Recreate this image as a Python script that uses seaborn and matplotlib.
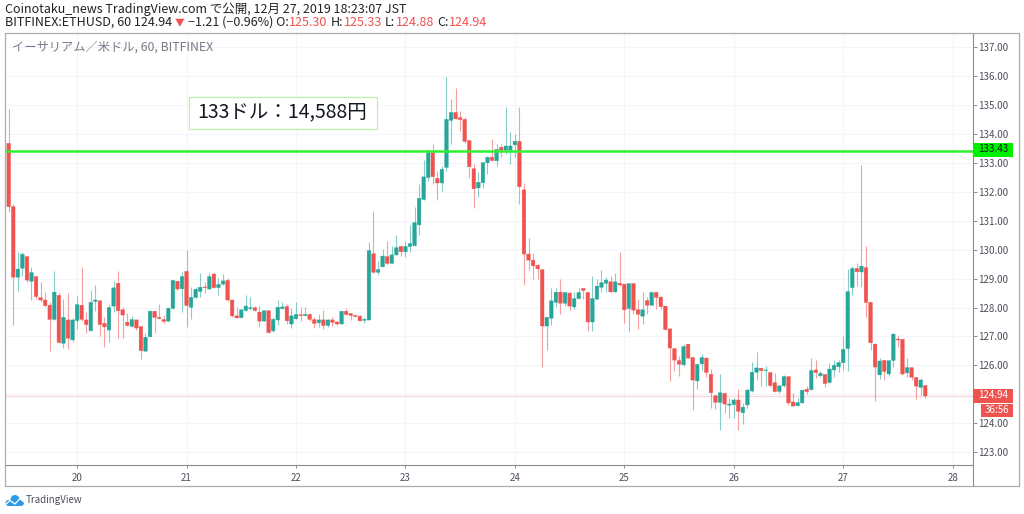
import numpy as np
import pandas as pd
import matplotlib
matplotlib.use("Agg")
import matplotlib.pyplot as plt
import seaborn as sns
from matplotlib.patches import Rectangle, Circle
from matplotlib.transforms import Affine2D

# ETHUSD hourly candles, first one is Dec 19 09:00
opens = [133.68,131.49,129.05,129.36,129.76,128.91,129.07,128.34,128.26,128.08,127.59,128.42,126.76,127.57,126.88,127.55,128.08,127.57,127.20,128.21,
         128.23,127.45,127.22,128.05,128.84,127.92,127.49,127.35,127.57,127.34,126.49,126.99,127.87,127.66,127.58,127.53,127.97,128.91,128.65,129.25,
         128.01,128.35,128.56,128.71,128.64,129.16,128.69,128.81,128.94,128.26,127.71,127.65,127.90,127.96,127.99,127.84,127.53,127.89,127.19,127.57,
         127.96,128.03,127.43,127.61,127.75,127.72,127.76,127.58,127.47,127.57,127.38,127.57,127.50,127.43,127.87,127.79,127.73,127.70,127.56,127.57,
         129.86,129.22,129.41,129.76,129.53,129.82,130.11,129.93,130.11,130.14,130.86,131.74,132.50,133.36,132.47,132.31,132.85,134.48,134.75,134.57,
         134.51,133.78,132.80,132.14,132.32,133.01,133.20,133.08,133.54,133.45,133.45,133.63,133.75,132.07,129.85,129.64,129.46,129.31,127.36,127.63,
         128.18,128.53,128.15,128.50,128.02,128.31,128.66,128.52,127.50,128.29,128.70,128.84,128.89,128.54,128.84,128.81,127.97,128.83,127.92,127.70,
         128.24,128.08,128.52,128.36,128.05,127.26,126.58,126.16,126.02,126.73,126.27,125.46,126.05,126.25,125.69,124.95,124.72,125.03,124.62,124.64,
         124.80,124.36,124.63,125.11,125.76,125.90,125.82,125.75,125.40,125.10,125.29,125.61,124.73,124.60,124.70,125.17,125.16,125.84,125.64,125.68,
         125.41,125.84,125.95,126.09,126.58,128.69,129.35,129.23,129.38,128.18,126.73,125.67,126.17,125.70,126.17,126.91,126.90,125.74,125.92,125.58,
         125.24,125.30]
highs = [134.86,131.58,129.91,129.93,129.78,129.41,129.07,128.87,128.55,128.20,129.25,128.55,128.28,128.49,127.63,128.41,129.41,127.83,128.61,128.78,
         128.26,127.68,128.12,128.93,129.25,128.01,127.80,127.71,127.59,127.34,127.13,127.92,127.89,128.12,127.74,128.01,128.96,128.91,129.23,129.99,
         128.70,128.72,129.21,128.90,129.21,129.21,129.01,129.16,129.01,128.26,128.01,127.92,128.43,128.36,128.05,128.05,127.89,127.89,127.66,128.26,
         128.20,128.12,127.97,128.19,128.01,128.03,127.82,127.68,127.76,127.91,127.59,127.66,127.54,127.87,127.98,127.80,127.74,127.74,127.66,130.27,
         131.34,129.62,130.01,130.31,130.13,130.50,130.16,130.31,130.86,131.47,132.27,133.10,133.50,133.66,132.73,132.90,135.99,135.21,135.58,134.80,
         134.60,133.78,132.95,132.69,133.03,133.24,133.82,133.66,133.66,134.93,134.07,134.00,134.93,132.30,130.42,129.88,129.55,129.31,127.68,128.68,
         128.66,129.00,128.52,128.52,128.54,128.66,128.68,128.53,129.10,128.98,129.31,129.04,129.10,129.18,129.91,128.83,128.83,128.83,128.29,128.54,
         128.37,128.52,128.52,128.39,128.05,127.26,126.58,126.32,126.75,126.73,126.27,126.03,126.39,126.28,125.86,124.95,125.69,125.03,124.86,124.86,
         125.17,124.69,125.20,126.12,126.45,125.90,125.98,125.76,125.72,125.30,125.65,125.61,125.03,124.88,125.16,125.30,126.27,126.18,125.79,125.69,
         126.07,126.18,126.18,127.02,129.35,129.43,129.54,132.92,130.12,128.18,126.78,126.27,126.17,126.18,127.12,127.04,126.90,126.27,125.92,125.60,
         125.55,125.33]
lows = [131.32,127.40,128.58,129.09,128.90,128.26,128.30,128.20,128.01,126.51,127.57,126.76,126.59,126.57,126.79,127.25,127.55,127.13,127.20,127.89,
        127.02,126.65,126.81,127.86,126.94,126.94,127.36,127.34,127.22,126.23,126.49,126.97,127.11,127.59,127.48,127.52,127.94,128.61,127.86,127.34,
        127.59,128.33,128.38,128.51,128.63,128.66,128.45,128.78,128.24,127.66,127.62,127.64,127.89,127.91,127.88,127.34,127.52,127.12,127.16,127.39,
        127.95,127.43,127.28,127.60,127.54,127.71,127.54,127.30,127.34,127.24,127.34,127.36,127.41,127.42,127.74,127.57,127.68,127.52,127.47,127.56,
        129.20,129.11,129.39,129.52,129.53,129.81,129.79,129.76,129.93,130.13,130.52,131.72,132.38,132.26,131.72,132.04,132.73,133.66,134.52,134.10,
        133.68,132.49,131.45,131.81,132.12,132.62,133.08,132.90,133.22,133.31,132.97,133.20,131.58,128.77,129.30,129.00,128.98,125.95,126.53,127.39,
        128.02,127.78,128.06,127.91,127.94,128.30,128.30,127.19,127.19,128.28,128.54,128.54,128.53,128.53,128.76,127.47,127.14,127.77,127.25,127.42,
        127.77,128.07,127.94,127.94,127.22,125.45,125.81,125.62,125.97,126.24,124.45,125.19,125.84,125.61,124.51,124.48,123.75,124.34,124.17,124.16,
        123.76,123.97,124.51,125.09,125.49,125.30,125.29,125.26,125.09,125.03,125.26,124.63,124.58,124.59,124.69,124.99,125.15,125.57,125.61,125.24,
        125.38,125.58,125.78,125.83,125.81,128.43,128.76,128.71,127.68,126.53,124.77,125.51,125.49,125.64,125.93,126.64,125.68,125.58,125.49,124.83,
        124.97,124.88]
closes = [131.49,129.05,129.33,129.84,128.95,129.21,128.38,128.26,128.07,127.59,128.53,126.79,127.66,126.94,127.57,128.10,127.59,127.41,128.18,128.26,
          127.41,127.33,128.00,128.68,127.89,127.74,127.38,127.58,127.29,126.51,126.97,127.87,127.66,127.62,127.52,127.97,128.94,128.64,129.07,128.07,
          128.35,128.63,128.70,128.69,129.07,128.69,128.80,128.92,128.26,127.71,127.64,127.92,128.05,127.99,127.90,127.53,127.89,127.13,127.59,128.01,
          128.02,127.54,127.71,127.76,127.72,127.76,127.59,127.45,127.57,127.38,127.57,127.49,127.43,127.87,127.76,127.73,127.69,127.54,127.59,129.97,
          129.22,129.31,129.78,129.53,129.82,130.07,129.93,130.11,130.21,130.94,131.78,132.52,133.36,132.53,132.31,132.78,134.51,134.75,134.53,134.50,
          133.75,132.87,132.11,132.33,133.01,133.20,133.09,133.47,133.45,133.59,133.59,133.75,132.18,129.85,129.64,129.44,129.34,127.36,127.66,128.23,
          128.53,128.15,128.52,128.05,128.31,128.52,128.59,127.50,128.31,128.74,128.86,128.95,128.54,128.89,128.78,127.92,128.83,127.91,127.77,127.92,
          128.08,128.52,128.35,128.03,127.24,126.60,126.18,126.04,126.65,126.25,125.49,126.03,126.27,125.75,125.05,124.72,125.05,124.66,124.66,124.80,
          124.41,124.55,125.14,125.76,125.91,125.82,125.84,125.30,125.09,125.29,125.61,124.70,124.59,124.71,125.14,125.09,125.82,125.75,125.72,125.37,
          125.87,126.00,126.09,126.55,128.55,129.35,129.24,129.43,128.18,126.78,125.94,126.15,125.79,126.16,127.08,126.88,125.70,125.92,125.59,125.28,
          125.49,124.94]

price_ticks = [123, 124, 125, 126, 127, 128, 129, 130, 131, 132, 133, 134, 135, 136, 137]
day_ticks = [20, 21, 22, 23, 24, 25, 26, 27, 28]
alert_price = 133.43
last_price = 124.94

up_col = "#26a69a"
down_col = "#ef5350"
line_green = "#2ef02e"
txt_col = "#4a4e5a"

sns.set_theme(style="white")
plt.rcParams["font.family"] = ["Noto Sans CJK JP", "DejaVu Sans"]

W, H = 1024, 514
fig = plt.figure(figsize=(W / 100, H / 100), dpi=100)
px = Affine2D().scale(1 / W, -1 / H).translate(0, 1) + fig.transFigure

# chart pane
ax = fig.add_axes([5 / W, 1 - 465 / H, 968 / W, 432 / H])

df = pd.DataFrame({"open": opens, "high": highs, "low": lows, "close": closes})
df["hour"] = np.arange(len(df)) + 9
df["top"] = df[["open", "close"]].max(axis=1)
df["bottom"] = df[["open", "close"]].min(axis=1)
df["body"] = df["top"] - df["bottom"]
df["rising"] = df["close"] >= df["open"]

for rising, col in [(True, up_col), (False, down_col)]:
    part = df[df["rising"] == rising]
    ax.vlines(part["hour"], part["low"], part["high"], color=col, lw=0.8, alpha=0.55, zorder=2)
    sns.barplot(data=part, x="hour", y="body", bottom=part["bottom"].values, native_scale=True,
                color=col, saturation=1, width=0.78, errorbar=None, ax=ax,
                linewidth=0.3, edgecolor=col, zorder=3)

# snapped bars come out uneven at this width
for bar in ax.patches:
    bar.set_snap(False)

ax.axhline(last_price, color="#f9d9d8", lw=1, zorder=1)
ax.axhline(alert_price, color=line_green, lw=1.8, zorder=4)

ax.set_xlim(8.19, 220.47)
ax.set_ylim(122.55, 137.50)
ax.set_xlabel("")
ax.set_ylabel("")
ax.set_xticks([(d - 19) * 24 for d in day_ticks])
ax.set_xticklabels([str(d) for d in day_ticks], fontsize=7, color=txt_col)
ax.set_yticks(price_ticks)
# the 125 label sits under the last price box
ax.set_yticklabels(["" if p == 125 else f"{p:.2f}" for p in price_ticks], fontsize=7, color=txt_col)
ax.yaxis.tick_right()
ax.tick_params(axis="y", length=3.2, width=0.7, color="#8a8d96", pad=0.8, right=True, left=False)
ax.tick_params(axis="x", length=2, width=0.7, color="#8a8d96", pad=3.5, bottom=True)
ax.grid(True, color="#f2f5fb", lw=0.8)
ax.set_axisbelow(True)
for s in ["top", "left"]:
    ax.spines[s].set_visible(False)
for s in ["right", "bottom"]:
    ax.spines[s].set_color("#8a8d96")
    ax.spines[s].set_linewidth(0.8)

# outer frame and the stub under the price axis
fig.add_artist(Rectangle((5, 33), 1014, 453, transform=px, fill=False, ec="#a9acb3", lw=0.9))
fig.add_artist(plt.Line2D([973, 973], [465, 486], transform=px, color="#8a8d96", lw=0.8))

# header
fig.text(5, 9.5, "Coinotaku_news TradingView.com で公開, 12月 27, 2019 18:23:07 JST",
         transform=px, fontsize=9, color="#222222", va="center")
rend = fig.canvas.get_renderer()
pieces = [("BITFINEX:ETHUSD, 60 124.94", "#222222"), ("▼", down_col), ("−1.21 (−0.96%) O:", "#222222"),
          ("125.30", down_col), ("H:", "#222222"), ("125.33", down_col), ("L:", "#222222"),
          ("124.88", down_col), ("C:", "#222222"), ("124.94", down_col)]
xpos = 5
for s, c in pieces:
    t = fig.text(xpos, 22, s, transform=px, fontsize=7 if s == "▼" else 9, color=c, va="center")
    xpos = t.get_window_extent(rend).x1
    # gap before the next label, almost none between a label and its number
    xpos += 0.5 if s.endswith(":") else 3

fig.text(12, 47, "イーサリアム／米ドル, 60, BITFINEX", transform=px, fontsize=8.8, color="#787b86", va="center")

# annotation box
fig.add_artist(Rectangle((189, 97), 188, 32, transform=px, fc="white", ec="#bdf0a8", lw=0.9, zorder=5))
fig.text(197, 112, "133ドル：14,588円", transform=px, fontsize=14, color="#131722", va="center", zorder=6)

# price labels on the axis
fig.add_artist(Rectangle((973, 143), 40, 13.5, transform=px, fc="#00f000", ec="none", zorder=5))
fig.text(993, 149.5, f"{alert_price:.2f}", transform=px, fontsize=7, color="#131722", ha="center", va="center", zorder=6)
fig.add_artist(Rectangle((973, 389), 40, 13.5, transform=px, fc=down_col, ec="none", zorder=5))
fig.text(993, 395.5, f"{last_price:.2f}", transform=px, fontsize=7, color="white", ha="center", va="center", zorder=6)
fig.add_artist(Rectangle((981, 404), 32, 12.5, transform=px, fc=down_col, ec="none", zorder=5))
fig.text(997, 410, "36:56", transform=px, fontsize=7, color="white", ha="center", va="center", zorder=6)

# TradingView logo, rough cloud
logo_blue = "#2e9be6"
for cx, cy, r in [(8.5, 503, 3), (15, 499.5, 4.5), (21, 503, 3)]:
    fig.add_artist(Circle((cx, cy), r, transform=px, fc=logo_blue, ec="none"))
fig.add_artist(Rectangle((8.5, 500), 12.5, 6, transform=px, fc=logo_blue, ec="none"))
fig.add_artist(plt.Line2D([5, 10, 15, 20, 24], [505, 500.5, 504, 498.5, 502], transform=px, color="white", lw=0.9))
fig.text(26, 500, "TradingView", transform=px, fontsize=7, color=txt_col, va="center")

fig.savefig("out.png", dpi=100)
